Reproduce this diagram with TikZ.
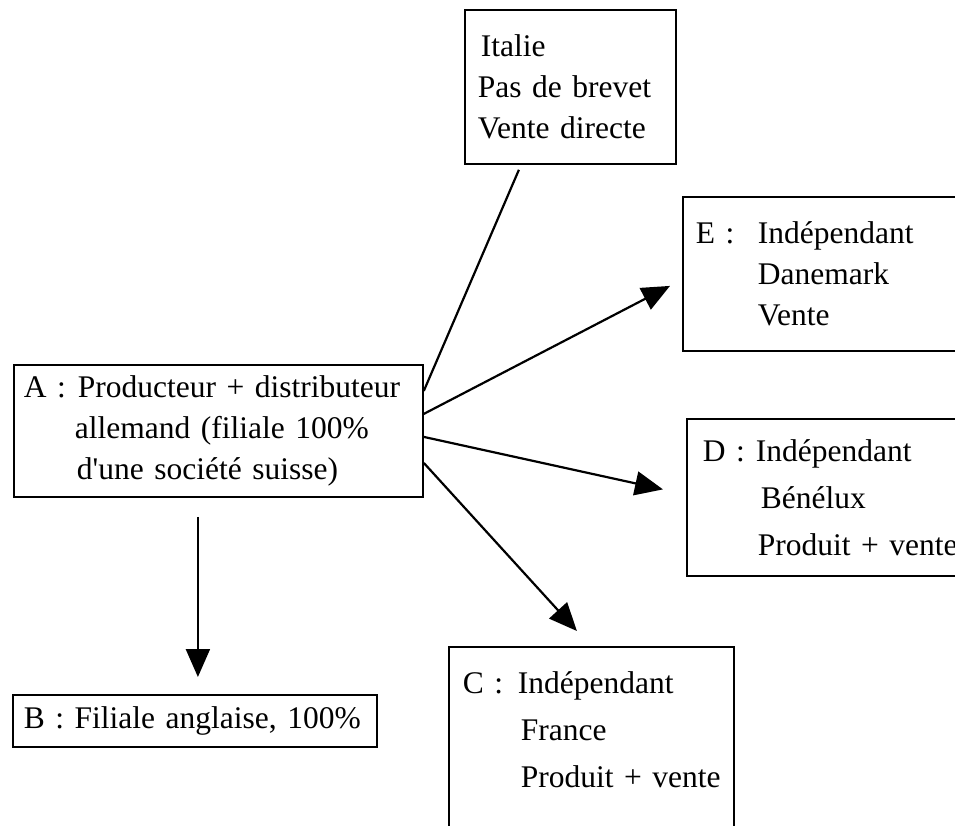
\documentclass[tikz,border=0pt]{standalone}
\usepackage{fontspec}
\setmainfont{Liberation Serif}
\usetikzlibrary{arrows.meta}
\begin{document}
\begin{tikzpicture}[x=1pt, y=-1pt,
        box/.style={draw, line width=1.8pt, anchor=north west, align=left, inner ysep=0pt,
            font=\fontsize{31.5}{41}\selectfont},
        wide/.style={font=\fontsize{31.5}{47}\selectfont},
        link/.style={line width=2.2pt},
        arr/.style={link, -{Triangle[length=28pt, width=24pt]}}]
        \useasboundingbox (0,0) rectangle (955,825);
        \clip (0,0) rectangle (955,825);

        % Boxes
        \node[box, inner xsep=10pt, text width=389pt, minimum height=132pt] (A) at (13,364)
            {\makebox[54pt][l]{A :}Producteur + distributeur\\
             \hspace*{51pt}allemand (filiale 100\%\\
             \hspace*{53pt}d\textquotesingle une société suisse)};
        \node[box, inner xsep=11pt, text width=342pt, minimum height=52pt] (B) at (12,694)
            {B : Filiale anglaise, 100\%};
        \node[box, inner xsep=13pt, text width=185pt, minimum height=154pt] (it) at (464,9)
            {\hspace*{3pt}Italie\\ Pas de brevet\\ Vente directe};
        \node[box, inner xsep=13pt, text width=272pt, minimum height=154pt] (E) at (682,196)
            {\makebox[62pt][l]{E :}Indépendant\\
             \hspace*{62pt}Danemark\\
             \hspace*{62pt}Vente};
        \node[box, wide, inner xsep=16pt, text width=262pt, minimum height=157pt] (D) at (686,418)
            {\makebox[53pt][l]{D :}Indépendant\\
             \hspace*{58pt}Bénélux\\
             \hspace*{55pt}\mbox{Produit + vente}};
        \node[box, wide, inner xsep=14pt, text width=257pt, minimum height=206pt] (C) at (448,646)
            {\makebox[55pt][l]{C :}Indépendant\\
             \hspace*{58pt}France\\
             \hspace*{58pt}\mbox{Produit + vente}\rule[-40pt]{0pt}{40pt}};

        % Links from A
        \draw[link] ([yshift=40pt]A.east) -- ([xshift=-51.5pt, yshift=-5pt]it.south);
        \draw[arr] ([yshift=17pt]A.east) -- ([xshift=-12pt, yshift=-12pt]E.west);
        \draw[arr] ([yshift=-6pt]A.east) -- ([xshift=-23pt, yshift=8pt]D.west);
        \draw[arr] ([yshift=-32pt]A.east) -- ([xshift=-14.5pt, yshift=15pt]C.north);
        \draw[arr] ([xshift=-20.5pt, yshift=-19pt]A.south) -- ([xshift=3pt, yshift=17pt]B.north);
    \end{tikzpicture}
\end{document}
